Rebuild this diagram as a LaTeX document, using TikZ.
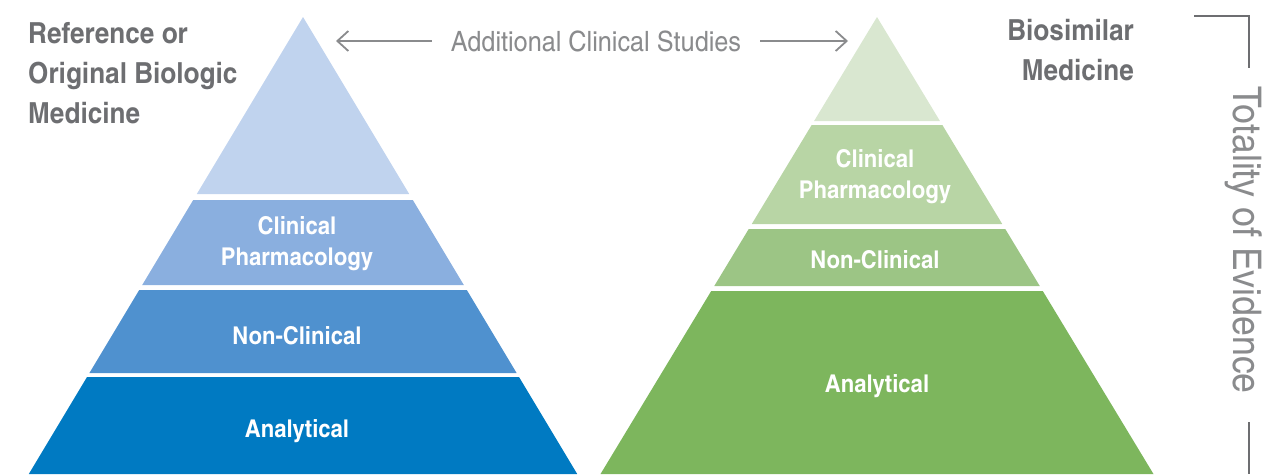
\documentclass[tikz,border=0pt]{standalone}
\usepackage{fontspec}
\setmainfont{texgyreheroscn}[Extension=.otf,UprightFont=*-regular,BoldFont=*-bold,FakeStretch=1.1]
\usetikzlibrary{arrows.meta}

\definecolor{labelgray}{HTML}{6D6E71}
\definecolor{linegray}{HTML}{8A8B8D}
\definecolor{refA}{HTML}{C0D3EE}
\definecolor{refB}{HTML}{8AAFDF}
\definecolor{refC}{HTML}{4F91CF}
\definecolor{refD}{HTML}{007AC2}
\definecolor{bioA}{HTML}{D9E7D0}
\definecolor{bioB}{HTML}{B8D5A5}
\definecolor{bioC}{HTML}{9CC585}
\definecolor{bioD}{HTML}{7DB65D}

\tikzset{
  tier/.style={text=white,align=center,font=\bfseries\fontsize{24.5}{31}\selectfont},
  title/.style={text=labelgray,font=\bfseries\fontsize{29}{40}\selectfont},
  thin label/.style={text=linegray,font=\fontsize{28}{34}\selectfont},
  arr/.style={-{Straight Barb[length=11pt,width=20pt]},line width=1.8pt,draw=linegray},
  bracket/.style={line width=2pt,draw=labelgray}
}

\begin{document}
\begin{tikzpicture}[x=1pt,y=-1pt]
\useasboundingbox (0,0) rectangle (1284,474);

% pyramid bands, half width grows ~0.6 per unit below the apex
\foreach \t/\b/\c in {17/194/refA,200/285/refB,290/373/refC,377/474/refD}
  \fill [\c] ({303-(\t-17)*0.6},\t) -- ({303+(\t-17)*0.6},\t)
    -- ({303+(\b-17)*0.6},\b) -- ({303-(\b-17)*0.6},\b) -- cycle;
\foreach \t/\b/\c in {17/121/bioA,125/224/bioB,229/286/bioC,291/474/bioD}
  \fill [\c] ({877-(\t-17)*0.605},\t) -- ({877+(\t-17)*0.605},\t)
    -- ({877+(\b-17)*0.605},\b) -- ({877-(\b-17)*0.605},\b) -- cycle;

\node [tier] (refpharm) at (297,244) {Clinical\\Pharmacology};
\node [tier] (refnonclin) at (297,336) {Non-Clinical};
\node [tier] (refanalyt) at (297,431) {Analytical};
\node [tier] (biopharm) at (875,177) {Clinical\\Pharmacology};
\node [tier] (biononclin) at (875,260) {Non-Clinical};
\node [tier] (bioanalyt) at (877,386) {Analytical};

\node [title,align=left,anchor=north west,inner sep=0pt] (refname) at (28,22) {Reference or\\Original Biologic\\Medicine};
\node [title,align=right,anchor=north east,inner sep=0pt] (bioname) at (1134,19) {Biosimilar\\Medicine};

% additional studies, pointing at both apexes
\node [thin label,inner xsep=19pt] (studies) at (596,41) {Additional Clinical Studies};
\coordinate (reftip) at (336,41);
\coordinate (biotip) at (848,41);
\draw [arr] (studies.west) -- (reftip);
\draw [arr] (studies.east) -- (biotip);

% totality bracket
\node [thin label,rotate=-90,font=\fontsize{39.5}{40}\selectfont] (totality) at (1244,240) {Totality of Evidence};
\coordinate (bktop) at (1194,16);
\coordinate (bkcorner) at (1249,16);
\draw [bracket] (bktop) -- (bkcorner) -- (1249,68);
\draw [bracket] (1249,422) -- (1249,474);
\end{tikzpicture}
\end{document}
